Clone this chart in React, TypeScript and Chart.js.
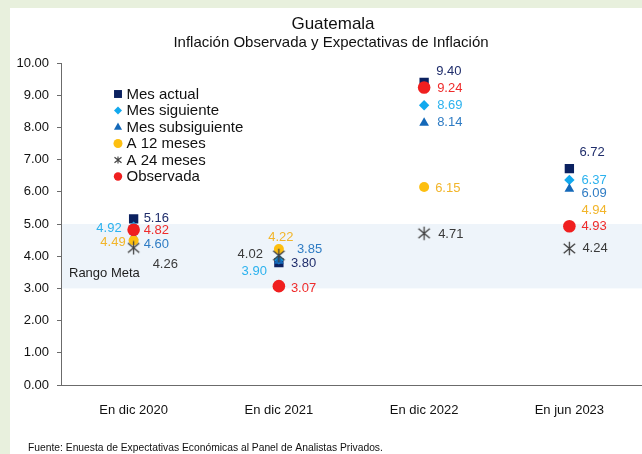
import React, { useEffect, useRef } from "react";
import { Chart, registerables } from "chart.js";

Chart.register(...registerables);

// ---- Data ----
const categories = ["En dic 2020", "En dic 2021", "En dic 2022", "En jun 2023"];
const mesActual = [5.16, 3.8, 9.4, 6.72];
const mesSiguiente = [4.92, 3.9, 8.69, 6.37];
const mesSubsiguiente = [4.6, 3.85, 8.14, 6.09];
const a12Meses = [4.49, 4.22, 6.15, 4.94];
const a24Meses = [4.26, 4.02, 4.71, 4.24];
const observada = [4.82, 3.07, 9.24, 4.93];
const yTickValues = [0, 1, 2, 3, 4, 5, 6, 7, 8, 9, 10];
const rangoMeta = [3, 5];

// ---- Label offsets (dx, dy, align) per series per category ----
type Off = [number, number, CanvasTextAlign];
const actualLbl: Off[] = [[10, 0, "left"], [12, 1, "left"], [12, -11, "left"], [10, -16, "left"]];
const sigLbl: Off[] = [[-12, 2, "right"], [-12, 12, "right"], [13, 0, "left"], [12, 1, "left"]];
const subLbl: Off[] = [[10, 8, "left"], [18, -12, "left"], [13, 0, "left"], [12, 5, "left"]];
const a12Lbl: Off[] = [[-8, 2, "right"], [2, -12, "center"], [11, 1, "left"], [12, -16, "left"]];
const a24Lbl: Off[] = [[19, 17, "left"], [-16, -1, "right"], [14, 1, "left"], [13, 0, "left"]];
const obsLbl: Off[] = [[10, 1, "left"], [12, 2, "left"], [13, 1, "left"], [12, 0, "left"]];

const FONT = "'Liberation Sans', Arial, sans-serif";

function makeAsterisk(size: number, color: string, lw: number) {
  const c = document.createElement("canvas");
  c.width = size;
  c.height = size;
  const g = c.getContext("2d")!;
  g.strokeStyle = color;
  g.lineWidth = lw;
  const m = size / 2;
  const r = size / 2 - 0.8;
  const d = r * 0.85;
  g.beginPath();
  g.moveTo(m, m - r);
  g.lineTo(m, m + r);
  g.moveTo(m - d, m - d * 0.85);
  g.lineTo(m + d, m + d * 0.85);
  g.moveTo(m + d, m - d * 0.85);
  g.lineTo(m - d, m + d * 0.85);
  g.stroke();
  return c;
}

type SeriesCfg = {
  label: string;
  data: number[];
  style: any;
  radius: number;
  color: string;
  text: string;
  lbl: Off[];
  order: number;
  legendR: number;
};

export default function App() {
  const ref = useRef<HTMLCanvasElement | null>(null);

  useEffect(() => {
    if (!ref.current) return;
    const star = makeAsterisk(15, "#404040", 1.3);
    const series: SeriesCfg[] = [
      { label: "Mes actual", data: mesActual, style: "rect", radius: 6.6, color: "#0b2160", text: "#1f2d6b", lbl: actualLbl, order: 5, legendR: 5.5 },
      { label: "Mes siguiente", data: mesSiguiente, style: "rectRot", radius: 5.2, color: "#12a9ee", text: "#2cb2ee", lbl: sigLbl, order: 4, legendR: 4 },
      { label: "Mes subsiguiente", data: mesSubsiguiente, style: "triangle", radius: 5.6, color: "#1468b8", text: "#2f7cc4", lbl: subLbl, order: 3, legendR: 4.5 },
      { label: "A 12 meses", data: a12Meses, style: "circle", radius: 5, color: "#fdbf10", text: "#f2b52a", lbl: a12Lbl, order: 2, legendR: 4.5 },
      { label: "A 24 meses", data: a24Meses, style: star, radius: 7, color: "#404040", text: "#3a3a3a", lbl: a24Lbl, order: 1, legendR: 3.5 },
      { label: "Observada", data: observada, style: "circle", radius: 6.3, color: "#f01f1f", text: "#ef2b2b", lbl: obsLbl, order: 0, legendR: 4.2 },
    ];

    const drawMarker = (ctx: CanvasRenderingContext2D, s: SeriesCfg, x: number, y: number) => {
      const r = s.legendR;
      ctx.save();
      ctx.fillStyle = s.color;
      ctx.strokeStyle = s.color;
      ctx.beginPath();
      if (s.style === "rect") {
        ctx.fillRect(x - r * 0.72, y - r * 0.72, r * 1.44, r * 1.44);
      } else if (s.style === "rectRot") {
        ctx.moveTo(x, y - r);
        ctx.lineTo(x + r, y);
        ctx.lineTo(x, y + r);
        ctx.lineTo(x - r, y);
        ctx.closePath();
        ctx.fill();
      } else if (s.style === "triangle") {
        ctx.moveTo(x, y - r);
        ctx.lineTo(x + r * 0.9, y + r * 0.6);
        ctx.lineTo(x - r * 0.9, y + r * 0.6);
        ctx.closePath();
        ctx.fill();
      } else if (s.style === "circle") {
        ctx.arc(x, y, r, 0, Math.PI * 2);
        ctx.fill();
      } else {
        ctx.lineWidth = 1.1;
        ctx.moveTo(x, y - r);
        ctx.lineTo(x, y + r);
        ctx.moveTo(x - r, y - r * 0.8);
        ctx.lineTo(x + r, y + r * 0.8);
        ctx.moveTo(x + r, y - r * 0.8);
        ctx.lineTo(x - r, y + r * 0.8);
        ctx.stroke();
      }
      ctx.restore();
    };

    const deco = {
      id: "deco",
      beforeDraw(chart: any) {
        const { ctx, chartArea, scales } = chart;
        const y = scales.y;
        const top = y.getPixelForValue(rangoMeta[1]);
        const bot = y.getPixelForValue(rangoMeta[0]);
        ctx.save();
        ctx.fillStyle = "#eef4fa";
        ctx.fillRect(chartArea.left, top, chartArea.right - chartArea.left, bot - top);
        ctx.fillStyle = "#1e1e1e";
        ctx.font = `13px ${FONT}`;
        ctx.textAlign = "left";
        ctx.textBaseline = "middle";
        ctx.fillText("Rango Meta", chartArea.left + 8, y.getPixelForValue(3.45));
        ctx.restore();
      },
      afterDatasetsDraw(chart: any) {
        const { ctx } = chart;
        ctx.save();
        ctx.font = `13px ${FONT}`;
        ctx.textBaseline = "middle";
        series.forEach((s, i) => {
          const meta = chart.getDatasetMeta(i);
          meta.data.forEach((el: any, j: number) => {
            const [dx, dy, al] = s.lbl[j];
            ctx.fillStyle = s.text;
            ctx.textAlign = al;
            ctx.fillText(s.data[j].toFixed(2), el.x + dx, el.y + dy);
          });
        });
        ctx.restore();
      },
      afterDraw(chart: any) {
        const { ctx } = chart;
        ctx.save();
        ctx.fillStyle = "#111";
        ctx.textAlign = "center";
        ctx.textBaseline = "middle";
        ctx.font = `17px ${FONT}`;
        ctx.fillText("Guatemala", 323, 16);
        ctx.font = `15px ${FONT}`;
        ctx.fillText("Inflación Observada y Expectativas de Inflación", 321, 35);
        // legend
        ctx.textAlign = "left";
        ctx.font = `15px ${FONT}`;
        series.forEach((s, i) => {
          const yy = 86 + i * 16.5;
          drawMarker(ctx, s, 108, yy);
          ctx.fillStyle = "#111";
          ctx.fillText(s.label, 116.5, yy + 0.5);
        });
        ctx.font = `10.3px ${FONT}`;
        ctx.fillStyle = "#111";
        ctx.fillText("Fuente: Enuesta de Expectativas Económicas al Panel de Analistas Privados.", 18, 440);
        ctx.restore();
      },
    };

    const chart = new Chart(ref.current, {
      type: "line",
      data: {
        labels: categories,
        datasets: series.map((s) => ({
          label: s.label,
          data: s.data,
          showLine: false,
          pointStyle: s.style,
          pointRadius: s.radius,
          pointHoverRadius: s.radius,
          pointBackgroundColor: s.color,
          pointBorderColor: s.color,
          pointBorderWidth: 0,
          order: s.order,
        })),
      },
      options: {
        responsive: false,
        animation: false,
        devicePixelRatio: 1,
        layout: { autoPadding: false, padding: { top: 55, left: 0, right: 0, bottom: 0 } },
        plugins: {
          legend: { display: false },
          tooltip: { enabled: false },
          title: { display: false },
        },
        scales: {
          x: {
            type: "category",
            offset: true,
            grid: { display: false },
            border: { display: true, color: "#6b6b6b", width: 1 },
            ticks: {
              color: "#111",
              font: { family: FONT, size: 13 },
              padding: 10,
              maxRotation: 0,
            },
            afterFit: (scale: any) => {
              scale.height = 69;
            },
          },
          y: {
            min: 0,
            max: 10,
            afterBuildTicks: (scale: any) => {
              scale.ticks = yTickValues.map((v) => ({ value: v }));
            },
            grid: {
              display: true,
              drawOnChartArea: false,
              drawTicks: true,
              tickLength: 4,
              color: "#6b6b6b",
            },
            border: { display: true, color: "#6b6b6b", width: 1 },
            ticks: {
              color: "#111",
              font: { family: FONT, size: 13 },
              padding: 8,
              callback: (v: any) => Number(v).toFixed(2),
            },
            afterFit: (scale: any) => {
              scale.width = 51;
            },
          },
        },
      },
      plugins: [deco],
    });
    return () => chart.destroy();
  }, []);

  return (
    <div style={{ position: "fixed", inset: 0, background: "#e8f0dd" }}>
      <div style={{ position: "absolute", left: 10, top: 8, width: 632, height: 446, background: "#fff" }}>
        <canvas ref={ref} width={632} height={446} style={{ display: "block", width: 632, height: 446 }} />
      </div>
    </div>
  );
}
